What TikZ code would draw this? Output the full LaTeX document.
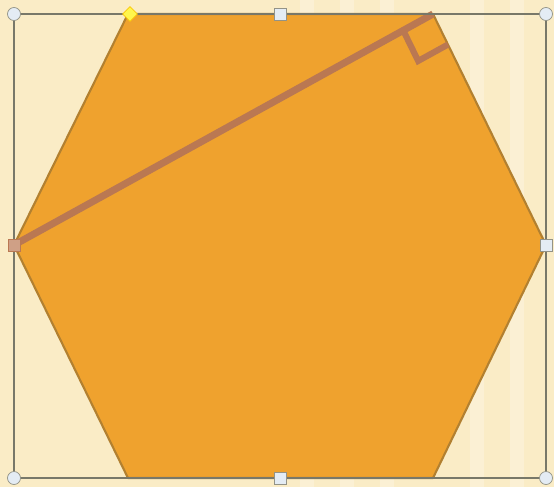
\documentclass[tikz,border=0pt]{standalone}
\usetikzlibrary{calc}
\definecolor{tlo}{RGB}{250,236,198}
\definecolor{pomarancz}{RGB}{239,162,46}
\definecolor{krawedz}{RGB}{178,128,48}
\definecolor{odcinek}{RGB}{186,120,82}
\definecolor{ramka}{RGB}{120,120,105}
\definecolor{uchwyt}{RGB}{228,236,244}
\tikzset{
  handlecirc/.style={circle, draw=ramka!80, fill=uchwyt, inner sep=0pt, minimum size=13*0.02cm},
  handlesq/.style={rectangle, draw=ramka!80, fill=uchwyt, inner sep=0pt, minimum size=12*0.02cm},
  handlediam/.style={diamond, draw=yellow!60!orange, fill=yellow!70, inner sep=0pt, minimum size=15*0.02cm}
}
\usetikzlibrary{shapes.geometric}
\begin{document}
\begin{tikzpicture}[x=0.02cm, y=-0.02cm]
        % Tlo
        \fill[tlo] (0,0) rectangle (554,487);
        \useasboundingbox (0,0) rectangle (554,487);
        \foreach \s in {300,340,380,470,510}
          \fill[white, opacity=0.25] (\s,0) rectangle (\s+14,487);

        % Wierzcholki szesciokata
        \coordinate (TL) at (128,14);
        \coordinate (TR) at (433,14);
        \coordinate (R) at (546,245);
        \coordinate (BR) at (433,478);
        \coordinate (BL) at (128,478);
        \coordinate (L) at (14,245);

        % Szesciokat
        \filldraw[fill=pomarancz, draw=krawedz, line width=1.2pt, line join=round]
          (TL) -- (TR) -- (R) -- (BR) -- (BL) -- (L) -- cycle;

        % Odcinek i kat prosty
        \draw[odcinek, line width=4pt] (L) -- (TR);
        \coordinate (KA) at ($(TR)!0.68cm!(L)$);
        \coordinate (KB) at ($(TR)!0.68cm!(R)$);
        \draw[odcinek, line width=3.5pt] (KA) -- ($(KA)+(KB)-(TR)$) -- (KB);

        % Ramka zaznaczenia
        \draw[ramka, line width=0.9pt] (14,14) rectangle (546,478);
        \node[handlecirc] (h1) at (14,14) {};
        \node[handlecirc] (h2) at (546,14) {};
        \node[handlecirc] (h3) at (14,478) {};
        \node[handlecirc] (h4) at (546,478) {};
        \node[handlesq] (h5) at (280,14) {};
        \node[handlesq] (h6) at (280,478) {};
        \node[handlesq] (h7) at (546,245) {};
        \node[handlesq, fill=odcinek!70, draw=odcinek] (h8) at (14,245) {};
        \node[handlediam] (h9) at (130,14) {};
    \end{tikzpicture}
\end{document}
